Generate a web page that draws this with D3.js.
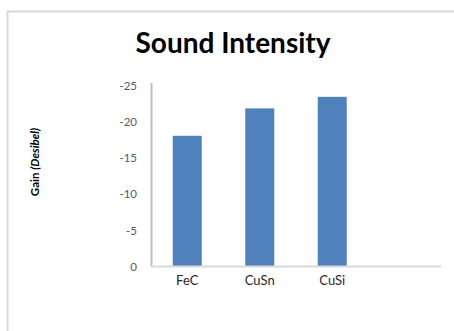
<!DOCTYPE html>
<html>
<head>
<meta charset="utf-8">
<script src="https://cdn.jsdelivr.net/npm/d3@7"></script>
<style>
  html, body { margin: 0; padding: 0; background: #fff; }
  svg { display: block; }
</style>
</head>
<body>
<svg id="chart" width="454" height="331"></svg>
<script>
// Sound intensity gain per alloy (dB, plotted on a reversed-sign axis)
const categories = ["FeC", "CuSn", "CuSi", ""];
const gainValues = [18.1, 21.9, 23.5, null];
const tickValues = [0, 5, 10, 15, 20, 25];
const tickLabels = ["0", "-5", "-10", "-15", "-20", "-25"];

const svg = d3.select("#chart");
const W = 454, H = 331;
const plot = { left: 151, right: 441, top: 86, bottom: 266.5 };
const font = "Lato, 'Open Sans', sans-serif";

// Chart area frame (open to the right and bottom)
svg.append("path")
  .attr("d", `M7.5,${H} V11.5 H${W}`)
  .attr("fill", "none")
  .attr("stroke", "#d9d9d9")
  .attr("stroke-width", 2);

// Title
svg.append("text")
  .attr("x", 233)
  .attr("y", 53)
  .attr("text-anchor", "middle")
  .attr("font-family", font)
  .attr("font-weight", "bold")
  .attr("font-size", 28)
  .attr("fill", "#000")
  .text("Sound Intensity");

const x = d3.scaleBand()
  .domain(categories.map((c, i) => i))
  .range([plot.left, plot.right])
  .paddingInner(0.6)
  .paddingOuter(0.3);

const y = d3.scaleLinear()
  .domain([0, 25])
  .range([plot.bottom, plot.top]);

// Bars
svg.append("g")
  .selectAll("rect")
  .data(gainValues.map((v, i) => ({ v, i })).filter(d => d.v != null))
  .join("rect")
  .attr("x", d => x(d.i))
  .attr("width", x.bandwidth())
  .attr("y", d => y(d.v))
  .attr("height", d => y(0) - y(d.v))
  .attr("fill", "#4f81bd");

// Y axis
const yAxis = d3.axisLeft(y)
  .tickValues(tickValues)
  .tickFormat((d, i) => tickLabels[i])
  .tickSize(0)
  .tickPadding(14);

const gy = svg.append("g")
  .attr("transform", `translate(${plot.left},0)`)
  .call(yAxis);
gy.select(".domain")
  .attr("d", `M0.5,${plot.top - 3}V${plot.bottom}`)
  .attr("stroke", "#bfbfbf")
  .attr("stroke-width", 2);
gy.selectAll("text")
  .attr("font-family", font)
  .attr("font-size", 11.5)
  .attr("fill", "#595959");

// X axis
const xAxis = d3.axisBottom(x)
  .tickFormat(i => categories[i])
  .tickSize(0)
  .tickPadding(9);

const gx = svg.append("g")
  .attr("transform", `translate(0,${plot.bottom})`)
  .call(xAxis);
gx.select(".domain")
  .attr("d", `M${plot.left},0H${plot.right}`)
  .attr("stroke", "#d9d9d9")
  .attr("stroke-width", 2);
gx.selectAll("text")
  .attr("font-family", font)
  .attr("font-size", 13)
  .attr("fill", "#262626");

// Y axis title
const yt = svg.append("text")
  .attr("transform", "translate(39,162) rotate(-90)")
  .attr("text-anchor", "middle")
  .attr("font-family", font)
  .attr("font-size", 11.5)
  .attr("font-weight", "bold")
  .attr("fill", "#000");
yt.append("tspan").text("Gain  ");
yt.append("tspan").attr("font-style", "italic").text("(Desibel)");
</script>
</body>
</html>
